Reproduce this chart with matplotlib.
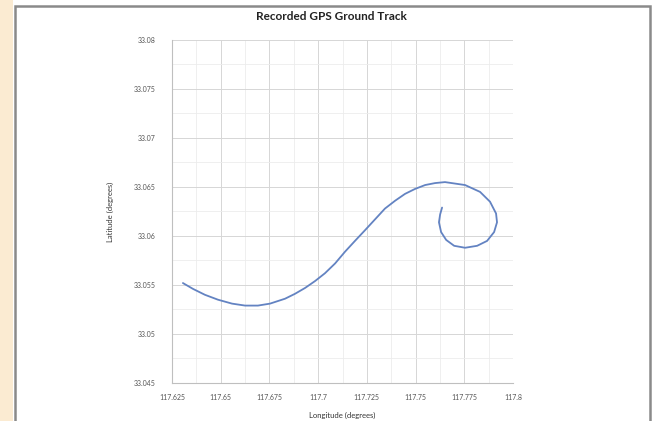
import matplotlib
matplotlib.use("Agg")
from matplotlib import pyplot as plt
from matplotlib.patches import Rectangle
from matplotlib.ticker import MultipleLocator

# ground track (longitude, latitude in degrees)
lon = [117.6306, 117.6358, 117.6419, 117.6486, 117.6558, 117.6625, 117.6691,
       117.6753, 117.6830, 117.6881, 117.6933, 117.6984, 117.7035, 117.7087,
       117.7138, 117.7189, 117.7241, 117.7292, 117.7343, 117.7395, 117.7446,
       117.7497, 117.7549, 117.7600, 117.7651, 117.7754, 117.7831, 117.7882,
       117.7913, 117.7918, 117.7903, 117.7867, 117.7816, 117.7754, 117.7698,
       117.7657, 117.7631, 117.7620, 117.7626, 117.7636]
lat = [33.0552, 33.0546, 33.0540, 33.0535, 33.0531, 33.0529, 33.0529,
       33.0531, 33.0536, 33.0541, 33.0547, 33.0554, 33.0562, 33.0572,
       33.0584, 33.0595, 33.0606, 33.0617, 33.0628, 33.0636, 33.0643,
       33.0648, 33.0652, 33.0654, 33.0655, 33.0652, 33.0645, 33.0635,
       33.0623, 33.0614, 33.0604, 33.0595, 33.0590, 33.0588, 33.0590,
       33.0596, 33.0604, 33.0614, 33.0622, 33.0629]

x_ticks = [117.625, 117.65, 117.675, 117.7, 117.725, 117.75, 117.775, 117.8]
y_ticks = [33.045, 33.05, 33.055, 33.06, 33.065, 33.07, 33.075, 33.08]

plt.rcParams['font.family'] = ['Lato', 'DejaVu Sans']

fig = plt.figure(figsize=(6.63, 4.21), dpi=100, facecolor='white')

# peach strip on the left and the grey chart frame (behind the axes)
fig.patches.append(Rectangle((0, 0), 13 / 663, 1, transform=fig.transFigure,
                             facecolor='#fbebd2', edgecolor='none', zorder=-2))
fig.patches.append(Rectangle((15 / 663, -0.05), 635 / 663, 1.05 - 6 / 421,
                             transform=fig.transFigure, facecolor='white',
                             edgecolor='#8a8a8a', linewidth=1.8, zorder=-1))

ax = fig.add_axes([172 / 663, 38 / 421, 341 / 663, 343 / 421])
ax.set_facecolor('white')
ax.plot(lon, lat, color='#6383c2', linewidth=1.3, zorder=3,
        solid_joinstyle='round', solid_capstyle='round')

ax.set_xlim(x_ticks[0], x_ticks[-1])
ax.set_ylim(y_ticks[0], y_ticks[-1])
ax.set_xticks(x_ticks)
ax.set_yticks(y_ticks)
ax.set_xticklabels([f'{v:g}' for v in x_ticks])
ax.set_yticklabels([f'{v:g}' for v in y_ticks])
ax.xaxis.set_minor_locator(MultipleLocator(0.0125))
ax.yaxis.set_minor_locator(MultipleLocator(0.0025))
ax.grid(which='major', color='#d6d6d6', linewidth=0.7)
ax.grid(which='minor', color='#ececec', linewidth=0.6)
ax.set_axisbelow(True)

for side in ['top', 'right']:
    ax.spines[side].set_visible(False)
for side in ['left', 'bottom']:
    ax.spines[side].set_color('#bfbfbf')
    ax.spines[side].set_linewidth(0.8)

ax.tick_params(which='both', length=0, labelsize=5, labelcolor='#555555', pad=8)
ax.tick_params(axis='y', pad=12)

ax.set_xlabel('Longitude (degrees)', fontsize=5.5, color='#333333', labelpad=8)
ax.set_ylabel('Latitude (degrees)', fontsize=5.5, color='#333333', labelpad=14)
fig.text(0.5, 1 - 17 / 421, 'Recorded GPS Ground Track', ha='center', va='center',
         fontsize=8.5, fontweight='bold', color='#222222')

fig.savefig('out.png', dpi=100, facecolor=fig.get_facecolor())
